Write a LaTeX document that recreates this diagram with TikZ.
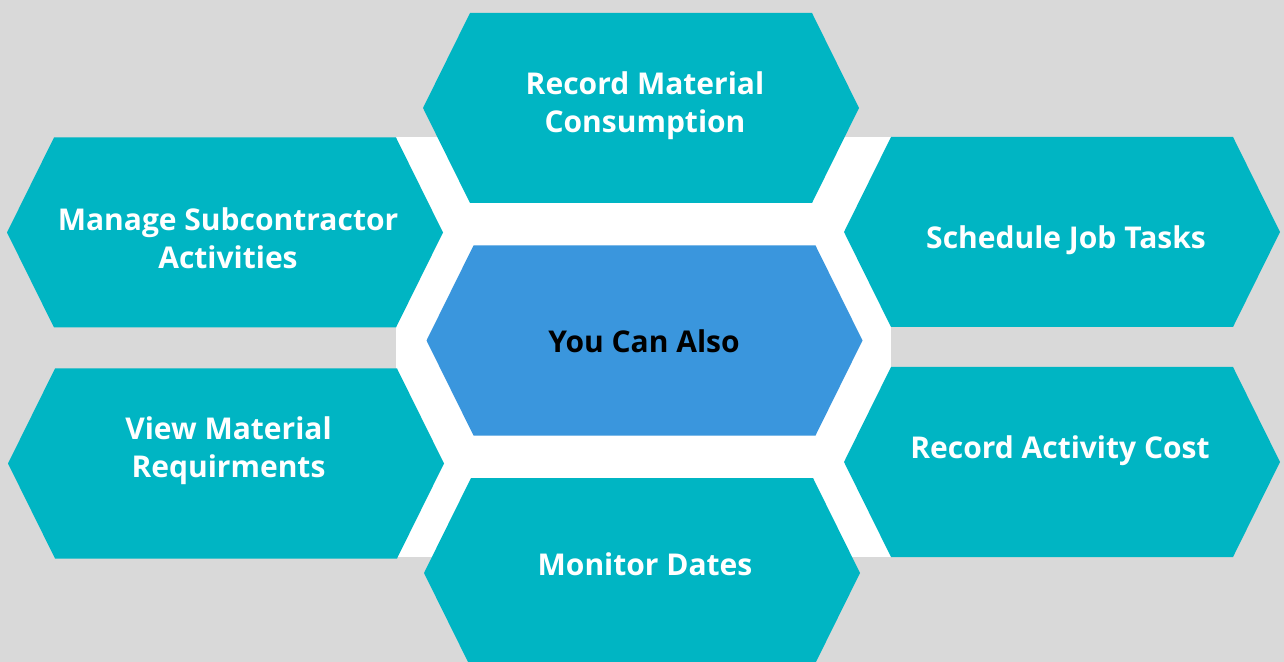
\documentclass[tikz,border=0pt]{standalone}
\usepackage{fontspec}
\setmainfont{Open Sans}
\definecolor{bggray}{HTML}{D9D9D9}
\definecolor{hexteal}{HTML}{00B5C3}
\definecolor{hexblue}{HTML}{3A96DD}
\begin{document}
\begin{tikzpicture}[x=0.5pt,y=-0.5pt,
  pics/hexa/.style={code={\fill[#1] (-218,0) -- (-171,-95) -- (171,-95) -- (218,0) -- (171,95) -- (-171,95) -- cycle;}},
  lbl/.style={font=\bfseries\fontsize{15}{19}\selectfont, text=white, align=center, inner sep=0pt},
  clbl/.style={lbl, text=black}]
\useasboundingbox (0,0) rectangle (1284,662);
\clip (0,0) rectangle (1284,662);
\fill[bggray] (0,0) rectangle (1284,662);
\fill[white] (396,137) rectangle (891,557);
\pic at (641,108) {hexa=hexteal};
\pic at (225,232.5) {hexa=hexteal};
\pic at (226,463.5) {hexa=hexteal};
\pic at (1062,232) {hexa=hexteal};
\pic at (1062,462) {hexa=hexteal};
\pic at (642,573) {hexa=hexteal};
\pic at (644.5,340.5) {hexa=hexblue};
\node[lbl] (t1) at (645,106) {Record Material\\Consumption};
\node[lbl] (t2) at (228,238) {Manage Subcontractor\\Activities};
\node[lbl] (t3) at (228.5,451) {View Material\\Requirments};
\node[lbl] (t4) at (1066,240) {Schedule Job Tasks};
\node[lbl] (t5) at (1060,451) {Record Activity Cost};
\node[lbl] (t6) at (645,564) {Monitor Dates};
\node[clbl] (t7) at (644,341) {You Can Also};
\end{tikzpicture}
\end{document}
